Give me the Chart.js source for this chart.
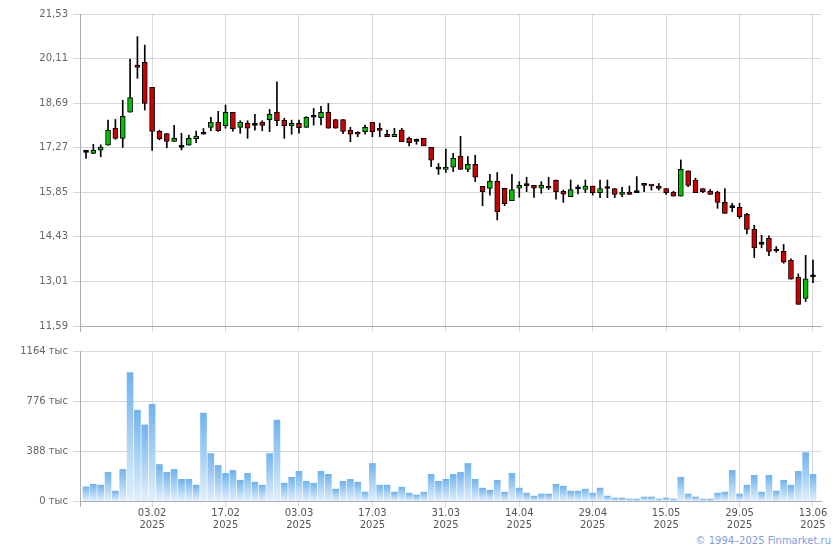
<!DOCTYPE html>
<html>
<head>
<meta charset="utf-8">
<script src="https://cdn.jsdelivr.net/npm/chart.js@4.4.1/dist/chart.umd.min.js"></script>
<style>
  body { margin: 0; background: #fff; width: 840px; height: 550px; overflow: hidden; position: relative; }
  #priceBox { position: absolute; left: 0; top: 0; width: 840px; height: 340px; }
  #volBox { position: absolute; left: 0; top: 340px; width: 840px; height: 195px; }
  #copy { position: absolute; right: 9px; top: 535px; font: 10px 'DejaVu Sans', sans-serif; color: #7f9de0; }
</style>
</head>
<body>
<div id="priceBox"><canvas id="priceChart" width="840" height="340"></canvas></div>
<div id="volBox"><canvas id="volChart" width="840" height="195"></canvas></div>
<div id="copy">© 1994–2025 Finmarket.ru</div>
<script>
// daily candles, 100 trading days up to 13.06.2025
const opens = [
  17.12, 17.09, 17.19, 17.35, 17.89, 17.57, 18.40, 19.90, 19.99, 19.19,
  17.79, 17.72, 17.47, 17.28, 17.35, 17.56, 17.70, 17.92, 18.08, 17.97,
  18.40, 17.92, 18.05, 17.98, 18.08, 18.16, 18.40, 18.14, 17.97, 18.05,
  17.92, 18.24, 18.23, 18.40, 18.17, 18.17, 17.82, 17.72, 17.78, 18.08,
  17.83, 17.70, 17.62, 17.83, 17.57, 17.47, 17.57, 17.28, 16.59, 16.58,
  16.65, 17.00, 16.58, 16.74, 16.04, 15.97, 16.20, 15.98, 15.58, 15.98,
  16.06, 16.07, 15.98, 16.04, 16.24, 15.88, 15.71, 15.96, 15.94, 16.05,
  15.84, 15.97, 15.97, 15.78, 15.86, 15.84, 16.07, 16.07, 16.05, 15.97,
  15.85, 15.73, 16.53, 16.24, 15.97, 15.89, 15.86, 15.53, 15.36, 15.37,
  15.15, 14.67, 14.19, 14.38, 13.98, 13.97, 13.68, 13.14, 12.47, 13.16
];
const highs = [
  17.18, 17.38, 17.36, 18.15, 18.17, 18.78, 20.09, 20.81, 20.54, 19.19,
  17.83, 17.72, 17.98, 17.73, 17.67, 17.80, 17.88, 18.24, 18.43, 18.63,
  18.40, 18.13, 18.13, 18.33, 18.13, 18.49, 19.37, 18.21, 18.15, 18.15,
  18.26, 18.52, 18.59, 18.68, 18.17, 18.17, 17.92, 17.78, 17.99, 18.08,
  18.05, 17.83, 17.89, 17.89, 17.61, 17.55, 17.57, 17.28, 16.77, 17.23,
  17.09, 17.63, 16.99, 17.03, 16.04, 16.42, 16.48, 15.98, 16.42, 16.19,
  16.33, 16.07, 16.19, 16.33, 16.24, 15.92, 16.24, 16.08, 16.24, 16.05,
  16.24, 16.24, 15.97, 16.01, 16.05, 16.35, 16.07, 16.07, 16.13, 15.97,
  15.88, 16.88, 16.53, 16.30, 15.97, 15.94, 15.89, 15.97, 15.50, 15.50,
  15.18, 14.80, 14.48, 14.46, 14.12, 14.19, 13.73, 13.25, 13.84, 13.69
];
const lows = [
  16.93, 17.08, 16.98, 17.35, 17.54, 17.28, 18.40, 19.48, 18.47, 17.18,
  17.52, 17.27, 17.47, 17.20, 17.35, 17.43, 17.70, 17.81, 17.79, 17.89,
  17.80, 17.73, 17.57, 17.83, 17.81, 17.78, 17.97, 17.57, 17.70, 17.73,
  17.92, 17.99, 18.00, 17.89, 17.89, 17.72, 17.46, 17.62, 17.70, 17.62,
  17.62, 17.62, 17.62, 17.46, 17.33, 17.38, 17.33, 16.67, 16.42, 16.48,
  16.51, 16.58, 16.51, 16.19, 15.42, 15.76, 14.97, 15.42, 15.58, 15.69,
  15.87, 15.69, 15.82, 15.94, 15.63, 15.53, 15.71, 15.80, 15.84, 15.76,
  15.68, 15.68, 15.68, 15.71, 15.78, 15.84, 15.87, 15.92, 15.92, 15.78,
  15.73, 15.73, 16.03, 15.84, 15.84, 15.78, 15.34, 15.18, 15.23, 15.02,
  14.52, 13.77, 14.08, 13.83, 13.94, 13.59, 13.08, 12.28, 12.37, 12.97
];
const closes = [
  17.12, 17.19, 17.29, 17.83, 17.57, 18.27, 18.87, 19.83, 18.68, 17.79,
  17.56, 17.47, 17.57, 17.28, 17.57, 17.64, 17.70, 18.08, 17.81, 18.40,
  17.88, 18.08, 17.89, 17.98, 17.98, 18.33, 18.13, 17.97, 18.05, 17.91,
  18.24, 18.24, 18.40, 17.89, 17.89, 17.79, 17.70, 17.70, 17.92, 17.78,
  17.82, 17.62, 17.70, 17.46, 17.43, 17.47, 17.33, 16.87, 16.59, 16.65,
  16.93, 16.58, 16.74, 16.33, 15.87, 16.20, 15.23, 15.49, 15.94, 16.07,
  16.06, 15.98, 16.07, 15.98, 15.87, 15.79, 15.94, 15.96, 16.05, 15.84,
  15.97, 15.97, 15.78, 15.86, 15.78, 15.84, 16.07, 16.05, 15.97, 15.84,
  15.73, 16.58, 16.07, 15.84, 15.87, 15.78, 15.53, 15.18, 15.36, 15.07,
  14.67, 14.08, 14.19, 13.97, 13.98, 13.62, 13.08, 12.28, 13.09, 13.16
];
// volume, thousands
const volumes = [
  110, 130, 123, 222, 77, 245, 996, 705, 590, 751,
  283, 222, 245, 168, 168, 123, 682, 368, 276, 214,
  237, 161, 214, 146, 123, 368, 628, 138, 184, 230,
  153, 138, 230, 207, 92, 153, 168, 146, 69, 291,
  123, 123, 69, 107, 61, 46, 69, 207, 153, 168,
  207, 222, 291, 168, 100, 84, 161, 69, 214, 100,
  61, 38, 54, 54, 130, 115, 77, 77, 92, 61,
  100, 38, 23, 23, 15, 15, 31, 31, 15, 23,
  15, 184, 54, 31, 15, 15, 61, 69, 237, 54,
  123, 199, 69, 199, 77, 161, 123, 230, 375, 207
];
const tickIndex = [9, 19, 29, 39, 49, 59, 69, 79, 89, 99];
const tickDates = ['03.02', '17.02', '03.03', '17.03', '31.03', '14.04', '29.04', '15.05', '29.05', '13.06'];
const tickYear = '2025';
const priceTicks = [11.59, 13.01, 14.43, 15.85, 17.27, 18.69, 20.11, 21.53];
const volTicks = [0, 388, 776, 1164];

const gridColor = '#d5d9de';
const axisColor = '#a9adb5';
const fontFamily = "'DejaVu Sans', sans-serif";
const xMin = -0.82, xMax = 100.09;

Chart.defaults.animation = false;
Chart.defaults.font.family = fontFamily;
Chart.defaults.font.size = 10;

function dateAxis(withLabels) {
  return {
    type: 'linear',
    min: xMin,
    max: xMax,
    offset: false,
    afterBuildTicks: s => {
      s.ticks = [{ value: xMin }].concat(tickIndex.map(v => ({ value: v })));
    },
    afterFit: s => { s.height = withLabels ? 34 : 14; },
    grid: {
      offset: false,
      color: c => c.index === 0 ? axisColor : gridColor,
      tickColor: c => c.index === 0 ? axisColor : gridColor,
      tickLength: 6
    },
    border: { color: axisColor },
    ticks: {
      display: withLabels,
      autoSkip: false,
      maxRotation: 0,
      padding: 0,
      color: '#555',
      font: { size: 10, lineHeight: 1.2 },
      callback: (v, i) => i === 0 ? '' : [tickDates[i - 1], tickYear]
    }
  };
}

// price chart: bodies drawn over wicks
const bodyColors = opens.map((o, i) => closes[i] > o ? '#00c000' : (closes[i] < o ? '#cc0000' : '#000'));

new Chart(document.getElementById('priceChart'), {
  type: 'bar',
  data: {
    datasets: [
      {
        label: 'body',
        data: opens.map((o, i) => ({ x: i, y: [o, closes[i]] })),
        backgroundColor: bodyColors,
        borderColor: '#000',
        borderWidth: 1,
        borderSkipped: false,
        barThickness: 5,
        minBarLength: 2,
        grouped: false,
        order: 0
      },
      {
        label: 'wick',
        data: lows.map((l, i) => ({ x: i, y: [l, highs[i]] })),
        backgroundColor: '#000',
        borderWidth: 0,
        barThickness: 1,
        grouped: false,
        order: 1
      }
    ]
  },
  options: {
    responsive: false,
    layout: { padding: { left: 0, right: 19, top: 14, bottom: 0 } },
    plugins: { legend: { display: false }, tooltip: { enabled: false } },
    scales: {
      x: dateAxis(false),
      y: {
        min: 11.59,
        max: 21.53,
        afterBuildTicks: s => { s.ticks = priceTicks.map(v => ({ value: v })); },
        afterFit: s => { s.width = 80; },
        grid: { color: gridColor, tickLength: 7 },
        border: { color: axisColor },
        ticks: {
          padding: 5,
          color: '#666',
          callback: v => v.toFixed(2).replace('.', ',')
        }
      }
    }
  }
});

// volume chart, each bar gets its own top-to-bottom gradient
function volFill(ctx) {
  const ys = ctx.chart.scales.y;
  if (!ys || !ctx.raw) return '#9cc9f1';
  const top = ys.getPixelForValue(ctx.raw.y);
  const bot = ys.getPixelForValue(0);
  if (!isFinite(top) || !isFinite(bot) || top === bot) return '#9cc9f1';
  const g = ctx.chart.ctx.createLinearGradient(0, top, 0, bot);
  g.addColorStop(0, '#70b3ee');
  g.addColorStop(1, '#e2effb');
  return g;
}

new Chart(document.getElementById('volChart'), {
  type: 'bar',
  data: {
    datasets: [{
      label: 'volume',
      data: volumes.map((v, i) => ({ x: i, y: v })),
      barThickness: 6,
      borderWidth: 0,
      backgroundColor: volFill
    }]
  },
  options: {
    responsive: false,
    layout: { padding: { left: 0, right: 19, top: 9, bottom: 0 } },
    plugins: { legend: { display: false }, tooltip: { enabled: false } },
    scales: {
      x: dateAxis(true),
      y: {
        min: 0,
        max: 1164,
        afterBuildTicks: s => { s.ticks = volTicks.map(v => ({ value: v })); },
        afterFit: s => { s.width = 80; },
        grid: { color: gridColor, tickLength: 7 },
        border: { color: axisColor },
        ticks: {
          padding: 5,
          color: '#666',
          callback: v => v + ' тыс'
        }
      }
    }
  }
});
</script>
</body>
</html>
